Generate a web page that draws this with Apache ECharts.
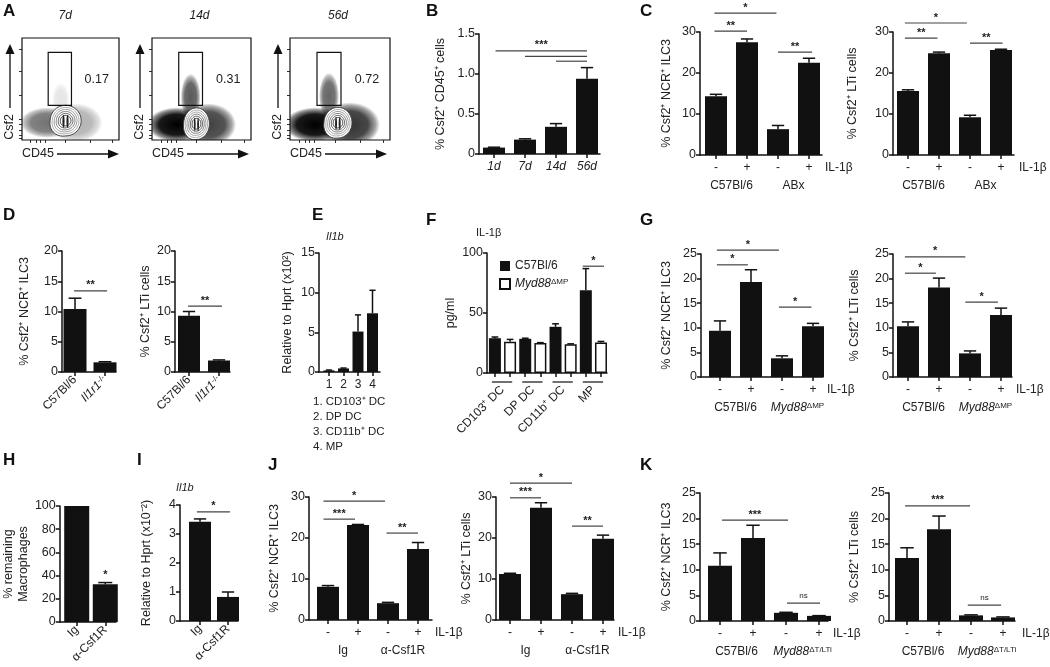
<!DOCTYPE html>
<html><head><meta charset="utf-8">
<script src="https://cdn.jsdelivr.net/npm/echarts@6/dist/echarts.min.js"></script>
<style>html,body{margin:0;padding:0;background:#fff}#c{width:1050px;height:667px}</style>
</head><body><div id="c"></div>
<script>
// ================= DATA =================
// Panel A (flow cytometry)
const flowTimepoints = ['7d', '14d', '56d'];
const flowPercents = ['0.17', '0.31', '0.72'];
const flowGate = [27, 34, 51, 86];                 // x1, y1, x2, y2 (axis units)
const flowContours = [[45, 19, 16, 15], [45, 16, 13, 15.5], [48, 17, 14, 15]]; // cx, cy, rx, ry
const flowClouds = [                                // cx, cy, rx, ry, density
  [[26, 17, 28, 15, 0.55], [55, 17, 28, 19, 0.3], [40, 40, 9, 16, 0.1]],
  [[25, 15, 30, 17, 1.0], [57, 15, 28, 21, 0.75], [39, 42, 10, 23, 0.65]],
  [[25, 15, 31, 17, 1.0], [60, 15, 30, 22, 0.8], [39, 43, 10, 23, 0.6]]
];
const flowXTicks = [9, 15, 19, 24, 45, 70, 93];
const flowYTicks = [2, 5, 10, 15, 20, 44, 67, 89];

// Panel B
const bCats = ['1d', '7d', '14d', '56d'];
const bVals = [0.08, 0.18, 0.34, 0.94];
const bHi = [0.085, 0.19, 0.38, 1.08];
const bSig = [[1.05, 4, 1.29], [2, 4, 1.22], [3, 4, 1.16]];
const bSigTxt = ['***', '', ''];

// IL-1β treatment labels
const il1bCats = ['-', '+', '-', '+'];

// Panel C
const cGroups = ['C57Bl/6', 'ABx'];
const c1Vals = [14.3, 27.5, 6.3, 22.5];
const c1Hi = [14.8, 28.3, 7.2, 23.6];
const c1Sig = [[0.95, 2.95, 34.6], [0.95, 2.0, 30.2], [3.0, 4.1, 25.1]];
const c1SigTxt = ['*', '**', '**'];
const c2Vals = [15.6, 24.8, 9.2, 25.6];
const c2Hi = [15.9, 25.1, 9.7, 25.8];
const c2Sig = [[0.9, 2.9, 32.2], [0.9, 1.95, 28.5], [3.0, 4.05, 27.3]];
const c2SigTxt = ['*', '**', '**'];

// Panel D
const dCats = ['C57Bl/6', 'Il1r1|-/-'];
const d1Vals = [10.4, 1.6];
const d1Hi = [12.2, 1.7];
const d1Sig = [[0.97, 2.07, 13.4]];
const d1SigTxt = ['**'];
const d2Vals = [9.3, 1.9];
const d2Hi = [10.0, 2.0];
const d2Sig = [[0.97, 2.1, 10.9]];
const d2SigTxt = ['**'];

// Panel E
const eCats = ['1', '2', '3', '4'];
const eVals = [0.2, 0.45, 5.1, 7.4];
const eHi = [0.25, 0.5, 7.2, 10.3];
const eKey = ['1. CD103⁺ DC', '2. DP DC', '3. CD11b⁺ DC', '4. MP'];

// Panel F
const fCats = ['CD103⁺ DC', 'DP DC', 'CD11b⁺ DC', 'MP'];
const fSeriesNames = ['C57Bl/6', 'Myd88|ΔMP'];
const fWt = [29, 28.5, 38.5, 69];
const fWtHi = [30, 29, 41, 87];
const fKo = [26, 25, 24, 25.5];
const fKoHi = [28, 25.3, 24.3, 26.3];
const fSig = [[3.65, 4.35, 89]];
const fSigTxt = ['*'];

// Panel G
const gGroups = ['C57Bl/6', 'Myd88|ΔMP'];
const g1Vals = [9.4, 19.3, 3.8, 10.3];
const g1Hi = [11.4, 21.8, 4.3, 10.9];
const g1Sig = [[0.9, 2.9, 25.8], [0.9, 1.9, 22.8], [2.9, 3.95, 14.2]];
const g1SigTxt = ['*', '*', '*'];
const g2Vals = [10.3, 18.2, 4.8, 12.6];
const g2Hi = [11.2, 20.1, 5.3, 14.0];
const g2Sig = [[0.9, 2.85, 24.4], [0.9, 1.9, 21.1], [2.85, 3.9, 15.2]];
const g2SigTxt = ['*', '*', '*'];

// Panel H
const hCats = ['Ig', 'α-Csf1R'];
const hVals = [100, 32.5];
const hHi = [100, 34];
const hSig = [[2, 2, 36]];
const hSigTxt = ['*'];

// Panel I
const iCats = ['Ig', 'α-Csf1R'];
const iVals = [3.42, 0.83];
const iHi = [3.52, 1.0];
const iSig = [[0.89, 2.07, 3.76]];
const iSigTxt = ['*'];

// Panel J
const jGroups = ['Ig', 'α-Csf1R'];
const j1Vals = [8.1, 23.2, 4.1, 17.3];
const j1Hi = [8.4, 23.3, 4.3, 18.9];
const j1Sig = [[0.85, 2.9, 29.0], [0.85, 1.9, 24.6], [2.95, 4.0, 21.2]];
const j1SigTxt = ['*', '***', '**'];
const j2Vals = [11.2, 27.4, 6.3, 19.8];
const j2Hi = [11.4, 28.6, 6.5, 20.7];
const j2Sig = [[1.0, 3.0, 33.4], [1.0, 2.0, 29.8], [3.0, 4.0, 22.9]];
const j2SigTxt = ['*', '***', '**'];

// Panel K
const kGroups = ['C57Bl/6', 'Myd88|ΔT/LTi'];
const k1Vals = [10.8, 16.2, 1.6, 1.0];
const k1Hi = [13.3, 18.7, 1.7, 1.05];
const k1Sig = [[1.06, 3.06, 19.7], [3.03, 4.03, 3.5]];
const k1SigTxt = ['***', 'ns'];
const k2Vals = [12.3, 17.9, 1.1, 0.7];
const k2Hi = [14.3, 20.5, 1.2, 0.8];
const k2Sig = [[0.94, 2.97, 22.5], [2.9, 3.94, 3.1]];
const k2SigTxt = ['***', 'ns'];

// ================= BUILD =================
const FONT = '"Liberation Sans", Arial, Helvetica, sans-serif';
const INK = '#111';
const TXT = '#222';
const grids = [], xAxes = [], yAxes = [], series = [], graphics = [];

const rich = {
  n: { fontSize: 12, color: TXT, fontFamily: FONT },
  ni: { fontSize: 12, color: TXT, fontFamily: FONT, fontStyle: 'italic' },
  ns: { fontSize: 8, color: TXT, fontFamily: FONT, verticalAlign: 'top', lineHeight: 10 },
  li: { fontSize: 12, color: TXT, fontFamily: FONT, fontStyle: 'italic' }
};
function lab(s, base) {
  base = base || 'n';
  if (s.indexOf('|') < 0) return '{' + base + '|' + s + '}';
  const p = s.split('|');
  return '{ni|' + p[0] + '}{ns|' + p[1] + '}';
}
function seq(n) { return Array.from({ length: n }, (_, i) => i + 1); }
function near(arr, v) { return arr.findIndex(p => Math.abs(p - v) < 1e-6); }

function errItem(cw) {
  return function (params, api) {
    const x = api.value(0), v = api.value(1), h = api.value(2);
    const a = api.coord([x, v]), b = api.coord([x, h]);
    if (h <= v + 1e-9) return { type: 'group', children: [] };
    return {
      type: 'group', children: [
        { type: 'line', shape: { x1: a[0], y1: a[1], x2: b[0], y2: b[1] }, style: { stroke: INK, lineWidth: 1.5 } },
        { type: 'line', shape: { x1: b[0] - cw, y1: b[1], x2: b[0] + cw, y2: b[1] }, style: { stroke: INK, lineWidth: 1.5 } }
      ]
    };
  };
}
function sigItem(txts) {
  return function (params, api) {
    const x1 = api.value(0), x2 = api.value(1), y = api.value(2);
    const a = api.coord([x1, y]), b = api.coord([x2, y]);
    const t = txts[params.dataIndex];
    const ch = [];
    if (Math.abs(x2 - x1) > 1e-6) ch.push({ type: 'line', shape: { x1: a[0], y1: a[1], x2: b[0], y2: b[1] }, style: { stroke: '#444', lineWidth: 1.2 } });
    if (t) {
      const ns = t === 'ns';
      ch.push({
        type: 'text', x: (a[0] + b[0]) / 2, y: a[1] - (ns ? 3 : 0),
        style: { text: t, fill: TXT, fontFamily: FONT, fontSize: ns ? 8 : 11, fontWeight: ns ? 'normal' : 'bold',
          textAlign: 'center', textVerticalAlign: 'bottom', align: 'center', verticalAlign: 'bottom' }
      });
    }
    return { type: 'group', children: ch };
  };
}

function barPanel(L, D) {
  const gi = grids.length;
  grids.push({ left: L.left, top: L.top, width: L.right - L.left, height: L.bottom - L.top });
  const xmin = 1 - L.off / L.sp, xmax = xmin + (L.right - L.left) / L.sp;
  const n = D.cats.length;
  const labelPos = D.labelPos || seq(n);
  const tickPos = D.tickPos || seq(n);
  const xi = xAxes.length, yi = yAxes.length;
  xAxes.push({
    gridIndex: gi, type: 'value', min: xmin, max: xmax, position: 'bottom',
    axisLine: { show: true, onZero: false, lineStyle: { color: INK, width: 1.5 } },
    axisTick: { show: true, customValues: tickPos, length: 4, lineStyle: { color: INK, width: 1.5 } },
    axisLabel: {
      show: true, customValues: labelPos, margin: D.margin || 7, rotate: D.rotate || 0,
      formatter: (v) => lab(D.cats[near(labelPos, v)], D.italic ? 'li' : 'n'), rich: rich
    },
    splitLine: { show: false }
  });
  if (D.groups) {
    xAxes.push({
      gridIndex: gi, type: 'value', min: xmin, max: xmax, position: 'bottom', offset: 0,
      axisLine: { show: false }, axisTick: { show: false }, splitLine: { show: false },
      axisLabel: { customValues: [1.5, 3.5], margin: 25, formatter: (v) => lab(D.groups[v < 2.5 ? 0 : 1]), rich: rich }
    });
  }
  if (D.il) {
    graphics.push({ type: 'text', left: L.il, top: L.bottom + 7, style: { text: 'IL-1β', font: '12px ' + FONT, fill: TXT } });
  }
  yAxes.push({
    gridIndex: gi, type: 'value', min: 0, max: L.max, interval: L.int,
    axisLine: { show: true, lineStyle: { color: INK, width: 1.5 } },
    axisTick: { show: true, length: 4, lineStyle: { color: INK, width: 1.5 } },
    axisLabel: { fontSize: 12.5, color: TXT, margin: 4, fontFamily: FONT, formatter: D.yfmt },
    splitLine: { show: false },
    name: D.yName, nameLocation: 'middle', nameRotate: 90, nameGap: L.gap,
    nameTextStyle: { fontSize: 12.5, color: TXT, fontFamily: FONT, lineHeight: 15 }
  });
  D.bars.forEach(B => {
    series.push({
      type: 'bar', name: B.name, xAxisIndex: xi, yAxisIndex: yi, barWidth: L.bw, barGap: '-100%',
      data: B.x.map((x, i) => [x, B.v[i]]),
      itemStyle: { color: B.fill || INK, borderColor: INK, borderWidth: B.fill === '#fff' ? 1.5 : 0 },
      emphasis: { disabled: true }, silent: true
    });
    series.push({
      type: 'custom', coordinateSystem: 'cartesian2d', xAxisIndex: xi, yAxisIndex: yi, clip: false, silent: true,
      data: B.x.map((x, i) => [x, B.v[i], B.hi[i]]), renderItem: errItem(L.bw * 0.28), z: 3
    });
  });
  if (D.sig) {
    series.push({
      type: 'custom', coordinateSystem: 'cartesian2d', xAxisIndex: xi, yAxisIndex: yi, clip: false, silent: true,
      data: D.sig, renderItem: sigItem(D.sigTxt), z: 4
    });
  }
  if (D.under) {
    series.push({
      type: 'custom', coordinateSystem: 'cartesian2d', xAxisIndex: xi, yAxisIndex: yi, clip: false, silent: true,
      data: D.under, renderItem: function (params, api) {
        const a = api.coord([api.value(0), 0]), b = api.coord([api.value(1), 0]);
        return { type: 'line', shape: { x1: a[0], y1: a[1] + 9, x2: b[0], y2: b[1] + 9 }, style: { stroke: INK, lineWidth: 1.2 } };
      }
    });
  }
}
function simple(vals, hi) { return [{ x: seq(vals.length), v: vals, hi: hi, fill: INK }]; }

const fmt1 = v => (v === 0 ? '0' : v.toFixed(1));
const nameNCR = '% Csf2⁺ NCR⁺ ILC3';
const nameLTi = '% Csf2⁺ LTi cells';

// ---- Flow panels ----
function ellPts(c, rx, ry, taper) {
  const pts = [];
  for (let i = 0; i < 60; i++) {
    const t = i / 60 * Math.PI * 2;
    const k = 1 + (taper || 0) * Math.max(0, Math.sin(t)) * Math.max(0, -Math.cos(t));
    pts.push([c[0] + rx * Math.cos(t) * k, c[1] + ry * Math.sin(t) * k]);
  }
  return pts;
}
function cloudItem(params, api) {
  const c = api.coord([api.value(0), api.value(1)]);
  const s = api.size([api.value(2), api.value(3)]);
  const a = api.value(4);
  return {
    type: 'circle', x: c[0], y: c[1], scaleX: s[0] / 50, scaleY: s[1] / 50, shape: { cx: 0, cy: 0, r: 50 },
    style: { fill: new echarts.graphic.RadialGradient(0.5, 0.5, 0.5, [
      { offset: 0, color: 'rgba(0,0,0,' + a + ')' },
      { offset: 0.6, color: 'rgba(0,0,0,' + (a * 0.9) + ')' },
      { offset: 0.85, color: 'rgba(0,0,0,' + (a * 0.45) + ')' },
      { offset: 1, color: 'rgba(0,0,0,0)' }]) }
  };
}
function contourItem(params, api) {
  const c = api.coord([api.value(0), api.value(1)]);
  const s = api.size([api.value(2), api.value(3)]);
  const rings = [[1, '#fff', '#444'], [0.86, null, '#aaa'], [0.73, null, '#999'], [0.6, null, '#777'], [0.47, null, '#555'], [0.34, null, '#333']];
  const ch = rings.map(r => ({
    type: 'polygon', shape: { points: ellPts(c, s[0] * r[0], s[1] * r[0], 0.18) },
    style: { fill: r[1] || 'none', stroke: r[2], lineWidth: 1 }
  }));
  [-0.14, 0.12].forEach(dx => ch.push({
    type: 'polygon', shape: { points: ellPts([c[0] + dx * s[0], c[1] + 0.05 * s[1]], s[0] * 0.07, s[1] * 0.42, 0) },
    style: { fill: '#222' }
  }));
  return { type: 'group', children: ch };
}
function gateItem(k) {
  return function (params, api) {
    const a = api.coord([api.value(0), api.value(3)]), b = api.coord([api.value(2), api.value(1)]);
    const t = api.coord([77, 59]);
    return {
      type: 'group', children: [
        { type: 'rect', shape: { x: a[0], y: a[1], width: b[0] - a[0], height: b[1] - a[1] }, style: { fill: 'none', stroke: INK, lineWidth: 1.2 } },
        { type: 'text', x: t[0], y: t[1], style: { text: flowPercents[k], fill: TXT, fontFamily: FONT, fontSize: 12.5, textAlign: 'center', textVerticalAlign: 'middle', align: 'center', verticalAlign: 'middle' } }
      ]
    };
  };
}
function flowPanel(k) {
  const left = [22, 152, 290][k], top = 38, w = [97, 99, 100][k], h = 102;
  const gi = grids.length;
  grids.push({ left: left, top: top, width: w, height: h, show: true, borderColor: INK, borderWidth: 1.2, backgroundColor: 'rgba(0,0,0,0)', z: 5 });
  const xi = xAxes.length, yi = yAxes.length;
  xAxes.push({ gridIndex: gi, type: 'value', min: 0, max: 100, axisLine: { show: false }, axisLabel: { show: false }, splitLine: { show: false },
    axisTick: { show: true, customValues: flowXTicks, length: 3, lineStyle: { color: '#333' } } });
  yAxes.push({ gridIndex: gi, type: 'value', min: 0, max: 100, axisLine: { show: false }, axisLabel: { show: false }, splitLine: { show: false },
    axisTick: { show: true, customValues: flowYTicks, length: 3, lineStyle: { color: '#333' } } });
  const base = { type: 'custom', coordinateSystem: 'cartesian2d', xAxisIndex: xi, yAxisIndex: yi, silent: true };
  series.push(Object.assign({}, base, { clip: true, data: flowClouds[k], renderItem: cloudItem }));
  series.push(Object.assign({}, base, { clip: true, data: [flowContours[k]], renderItem: contourItem }));
  series.push(Object.assign({}, base, { clip: false, data: [flowGate], renderItem: gateItem(k) }));
  // decorations
  graphics.push({ type: 'text', left: left + w / 2 - 12, top: 10, style: { text: flowTimepoints[k], font: 'italic 12px ' + FONT, fill: TXT } });
  const ax = left - 12;
  graphics.push({ type: 'line', shape: { x1: ax, y1: 108, x2: ax, y2: 52 }, style: { stroke: INK, lineWidth: 1.3 } });
  graphics.push({ type: 'polygon', shape: { points: [[ax - 4.5, 54], [ax + 4.5, 54], [ax, 44]] }, style: { fill: INK } });
  graphics.push({ type: 'text', x: ax, y: 127, rotation: Math.PI / 2, style: { text: 'Csf2', font: '12.5px ' + FONT, fill: TXT, textAlign: 'center', textVerticalAlign: 'middle', align: 'center', verticalAlign: 'middle' } });
  graphics.push({ type: 'text', x: left, y: 154, style: { text: 'CD45', font: '12.5px ' + FONT, fill: TXT, textVerticalAlign: 'middle', verticalAlign: 'middle' } });
  graphics.push({ type: 'line', shape: { x1: left + 35, y1: 154, x2: left + 88, y2: 154 }, style: { stroke: INK, lineWidth: 1.3 } });
  graphics.push({ type: 'polygon', shape: { points: [[left + 86, 149.5], [left + 86, 158.5], [left + 97, 154]] }, style: { fill: INK } });
}
[0, 1, 2].forEach(flowPanel);

// ---- Bar panels ----
barPanel({ left: 479, right: 600, top: 34, bottom: 154, off: 15, sp: 31, bw: 22, max: 1.5, int: 0.5, gap: 31 },
  { cats: bCats, italic: true, bars: simple(bVals, bHi), sig: bSig, sigTxt: bSigTxt, yName: '% Csf2⁺ CD45⁺ cells', yfmt: fmt1 });

barPanel({ left: 700, right: 822, top: 32, bottom: 155, off: 16, sp: 31, bw: 22, max: 30, int: 10, gap: 26, il: 825 },
  { cats: il1bCats, groups: cGroups, il: true, bars: simple(c1Vals, c1Hi), sig: c1Sig, sigTxt: c1SigTxt, yName: nameNCR });
barPanel({ left: 893, right: 1014, top: 32, bottom: 155, off: 15, sp: 31, bw: 22, max: 30, int: 10, gap: 33, il: 1019 },
  { cats: il1bCats, groups: cGroups, il: true, bars: simple(c2Vals, c2Hi), sig: c2Sig, sigTxt: c2SigTxt, yName: nameLTi });

barPanel({ left: 62, right: 116, top: 251, bottom: 372, off: 13, sp: 30, bw: 23, max: 20, int: 5, gap: 30 },
  { cats: dCats, rotate: 45, margin: 6, bars: simple(d1Vals, d1Hi), sig: d1Sig, sigTxt: d1SigTxt, yName: nameNCR });
barPanel({ left: 175, right: 230, top: 251, bottom: 372, off: 14, sp: 30, bw: 22, max: 20, int: 5, gap: 16 },
  { cats: dCats, rotate: 45, margin: 6, bars: simple(d2Vals, d2Hi), sig: d2Sig, sigTxt: d2SigTxt, yName: nameLTi });

barPanel({ left: 319, right: 380, top: 253, bottom: 372, off: 10, sp: 14.5, bw: 11, max: 15, int: 5, gap: 24 },
  { cats: eCats, bars: simple(eVals, eHi), yName: 'Relative to Hprt (x10²)' });

const fPos = seq(4);
barPanel({ left: 487, right: 607, top: 253, bottom: 373, off: 15.5, sp: 30.3, bw: 12, max: 100, int: 50, gap: 16 },
  { cats: fCats, rotate: 45, margin: 15, labelPos: fPos,
    tickPos: fPos.map(g => g - 0.25).concat(fPos.map(g => g + 0.25)),
    bars: [
      { name: 'C57Bl/6', x: fPos.map(g => g - 0.25), v: fWt, hi: fWtHi, fill: INK },
      { name: 'Myd88ΔMP', x: fPos.map(g => g + 0.25), v: fKo, hi: fKoHi, fill: '#fff' }
    ],
    under: fPos.map(g => [g - 0.35, g + 0.32]),
    sig: fSig, sigTxt: fSigTxt, yName: 'pg/ml' });

barPanel({ left: 701, right: 823, top: 254, bottom: 377, off: 19, sp: 31, bw: 22, max: 25, int: 5, gap: 27, il: 827 },
  { cats: il1bCats, groups: gGroups, il: true, bars: simple(g1Vals, g1Hi), sig: g1Sig, sigTxt: g1SigTxt, yName: nameNCR });
barPanel({ left: 893, right: 1012, top: 254, bottom: 377, off: 15, sp: 31, bw: 22, max: 25, int: 5, gap: 31, il: 1016 },
  { cats: il1bCats, groups: gGroups, il: true, bars: simple(g2Vals, g2Hi), sig: g2Sig, sigTxt: g2SigTxt, yName: nameLTi });

barPanel({ left: 53, right: 116, top: 506, bottom: 622, off: 19, sp: 32, bw: 25, max: 100, int: 20, gap: 15 },
  { cats: hCats, rotate: 45, margin: 6, bars: simple(hVals, hHi), sig: hSig, sigTxt: hSigTxt, yName: '% remaining\nMacrophages' });
barPanel({ left: 180, right: 238, top: 505, bottom: 621, off: 20, sp: 28, bw: 22, max: 4, int: 1, gap: 26 },
  { cats: iCats, rotate: 45, margin: 6, bars: simple(iVals, iHi), sig: iSig, sigTxt: iSigTxt, yName: 'Relative to Hprt (x10⁻²)' });

barPanel({ left: 309, right: 432, top: 497, bottom: 620, off: 19, sp: 30, bw: 22, max: 30, int: 10, gap: 27, il: 435 },
  { cats: il1bCats, groups: jGroups, il: true, bars: simple(j1Vals, j1Hi), sig: j1Sig, sigTxt: j1SigTxt, yName: nameNCR });
barPanel({ left: 496, right: 614, top: 497, bottom: 620, off: 14, sp: 31, bw: 22, max: 30, int: 10, gap: 16, il: 618 },
  { cats: il1bCats, groups: jGroups, il: true, bars: simple(j2Vals, j2Hi), sig: j2Sig, sigTxt: j2SigTxt, yName: nameLTi });

barPanel({ left: 700, right: 828, top: 493, bottom: 621, off: 20, sp: 33, bw: 24, max: 25, int: 5, gap: 26, il: 833 },
  { cats: il1bCats, groups: kGroups, il: true, bars: simple(k1Vals, k1Hi), sig: k1Sig, sigTxt: k1SigTxt, yName: nameNCR });
barPanel({ left: 889, right: 1015, top: 493, bottom: 621, off: 18, sp: 32, bw: 24, max: 25, int: 5, gap: 27, il: 1022 },
  { cats: il1bCats, groups: kGroups, il: true, bars: simple(k2Vals, k2Hi), sig: k2Sig, sigTxt: k2SigTxt, yName: nameLTi });

// ---- Panel letters and small texts ----
[['A', 3, 3], ['B', 426, 3], ['C', 640, 3], ['D', 3, 207], ['E', 312, 207], ['F', 426, 212], ['G', 640, 212],
 ['H', 3, 452], ['I', 137, 452], ['J', 268, 457], ['K', 640, 457]].forEach(p => {
  graphics.push({ type: 'text', left: p[1], top: p[2], style: { text: p[0], font: 'bold 17px ' + FONT, fill: INK } });
});
eKey.forEach((t, i) => graphics.push({ type: 'text', left: 313, top: 396 + i * 15, style: { text: t, font: '11.5px ' + FONT, fill: TXT } }));
graphics.push({ type: 'text', left: 326, top: 231, style: { text: 'Il1b', font: 'italic 11px ' + FONT, fill: TXT } });
graphics.push({ type: 'text', left: 476, top: 227, style: { text: 'IL-1β', font: '11px ' + FONT, fill: TXT } });
graphics.push({ type: 'text', left: 176, top: 482, style: { text: 'Il1b', font: 'italic 11px ' + FONT, fill: TXT } });

const chart = echarts.init(document.getElementById('c'), null, { renderer: 'canvas', width: 1050, height: 667 });
chart.setOption({
  animation: false,
  backgroundColor: '#fff',
  textStyle: { fontFamily: FONT },
  grid: grids, xAxis: xAxes, yAxis: yAxes, series: series, graphic: graphics,
  legend: {
    data: ['C57Bl/6', 'Myd88ΔMP'], orient: 'vertical', left: 494, top: 255, itemWidth: 10, itemHeight: 10, itemGap: 6,
    selectedMode: false, icon: 'rect',
    formatter: n => (n === 'C57Bl/6' ? '{n|C57Bl/6}' : lab(fSeriesNames[1])),
    textStyle: { fontFamily: FONT, fontSize: 12, color: TXT, rich: rich }
  }
});
</script>
</body></html>
